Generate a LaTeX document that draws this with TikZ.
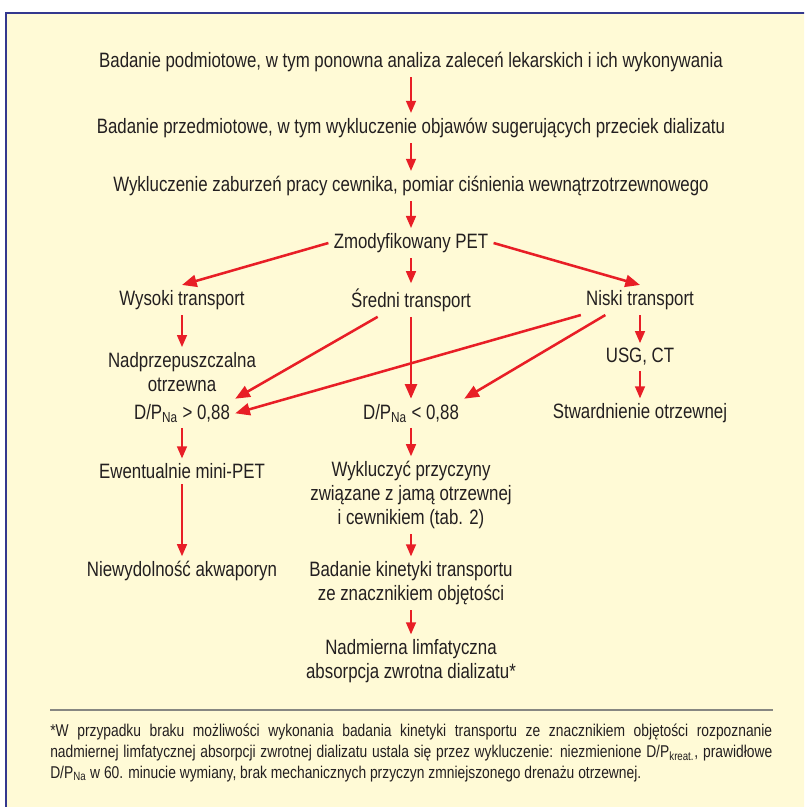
\documentclass[tikz,border=0pt]{standalone}
\usepackage{fontspec}
\setmainfont{Liberation Sans}[FakeStretch=0.81]
\usetikzlibrary{arrows.meta,positioning}
\definecolor{arrred}{RGB}{232,30,38}
\definecolor{panel}{RGB}{255,250,214}
\definecolor{frame}{RGB}{52,56,142}
\definecolor{ink}{RGB}{35,31,32}
\definecolor{rulegray}{RGB}{135,135,130}
\tikzset{
  lbl/.style={align=center, text=ink, font=\fontsize{15.6}{18}\selectfont, inner sep=0pt, outer sep=4pt},
  foot/.style={align=justify, text=ink, text width=541.5pt, inner sep=0pt, font=\fontsize{12.8}{15.75}\selectfont},
  arr/.style={draw=arrred, line width=1.1pt, -{Triangle[length=9pt,width=7.5pt]}},
  bigarr/.style={draw=arrred, line width=1.9pt, -{Triangle[length=11pt,width=9pt]}},
}
\newcommand{\DP}{D/P\textsubscript{Na}}

\begin{document}
\begin{tikzpicture}[node distance=42.75pt, on grid]
  \clip (0,0) rectangle (603pt,-605.25pt);
  \filldraw[fill=panel, draw=frame, line width=1.8pt] (4.5pt,-9.75pt) rectangle (620pt,-620pt);
  \node[lbl] (pod) at (308.25pt,-46.5pt) {Badanie podmiotowe, w tym ponowna analiza zaleceń lekarskich i ich wykonywania};
  \node[lbl, below=49.5pt of pod] (prz) {Badanie przedmiotowe, w tym wykluczenie objawów sugerujących przeciek dializatu};
  \node[lbl, below=43.5pt of prz] (cew) {Wykluczenie zaburzeń pracy cewnika, pomiar ciśnienia wewnątrzotrzewnowego};
  \node[lbl, below=of cew] (pet) {Zmodyfikowany PET};
  \node[lbl, below=of pet] (sre) {Średni transport};
  \node[lbl, left=171.75pt of sre] (wys) {Wysoki transport};
  \node[lbl, right=171.75pt of sre] (nis) {Niski transport};
  \node[lbl, below=54pt of wys] (nad) {Nadprzepuszczalna\\otrzewna};
  \node[lbl, below=of nis] (usg) {USG, CT};
  \node[lbl, below=85pt of sre] (dpl) {\DP{} < 0,88};
  \node[lbl, left=171.75pt of dpl] (dpg) {\DP{} > 0,88};
  \node[lbl, right=171.75pt of dpl] (stw) {Stwardnienie otrzewnej};
  \node[lbl, below=43.5pt of dpg] (ewe) {Ewentualnie mini-PET};
  \node[lbl, below=75pt of ewe] (akw) {Niewydolność akwaporyn};
  \node[lbl, below=61.5pt of dpl] (wyk) {Wykluczyć przyczyny\\związane z jamą otrzewnej\\i cewnikiem (tab. 2)};
  \node[lbl, below=66pt of wyk] (kin) {Badanie kinetyki transportu\\ze znacznikiem objętości};
  \node[lbl, below=58.5pt of kin] (lim) {Nadmierna limfatyczna\\absorpcja zwrotna dializatu*};
  \node[foot, anchor=north west] (fn) at (37.5pt,-542.5pt) {*W przypadku braku możliwości wykonania badania kinetyki transportu ze znacznikiem objętości rozpoznanie\linebreak nadmiernej limfatycznej absorpcji zwrotnej dializatu ustala się przez wykluczenie: niezmienione D/P\textsubscript{kreat.}, prawidłowe\linebreak \DP{} w 60. minucie wymiany, brak mechanicznych przyczyn zmniejszonego drenażu otrzewnej.};
  \draw[rulegray, line width=1.8pt] ([yshift=10pt]fn.north west) -- ([yshift=10pt]fn.north east);
  \draw[arr] (pod) -- (prz);
  \draw[arr] (prz) -- (cew);
  \draw[arr] (cew) -- (pet);
  \draw[bigarr] (pet.west) -- (wys.north);
  \draw[arr] (pet) -- (sre);
  \draw[bigarr] (pet.east) -- (nis.north);
  \draw[arr] (wys) -- (nad);
  \draw[arr] (nis) -- (usg);
  \draw[arr] (usg) -- (stw);
  \draw[bigarr] ([xshift=-25pt]sre.south) -- (dpg.north east);
  \draw[bigarr] (sre) -- (dpl);
  \draw[bigarr] (nis.south west) -- (dpg.east);
  \draw[bigarr] ([xshift=-26pt]nis.south) -- (dpl.north east);
  \draw[arr] (dpg) -- (ewe);
  \draw[arr] (ewe) -- (akw);
  \draw[arr] (dpl) -- (wyk);
  \draw[arr] (wyk) -- (kin);
  \draw[arr] (kin) -- (lim);
\end{tikzpicture}
\end{document}
